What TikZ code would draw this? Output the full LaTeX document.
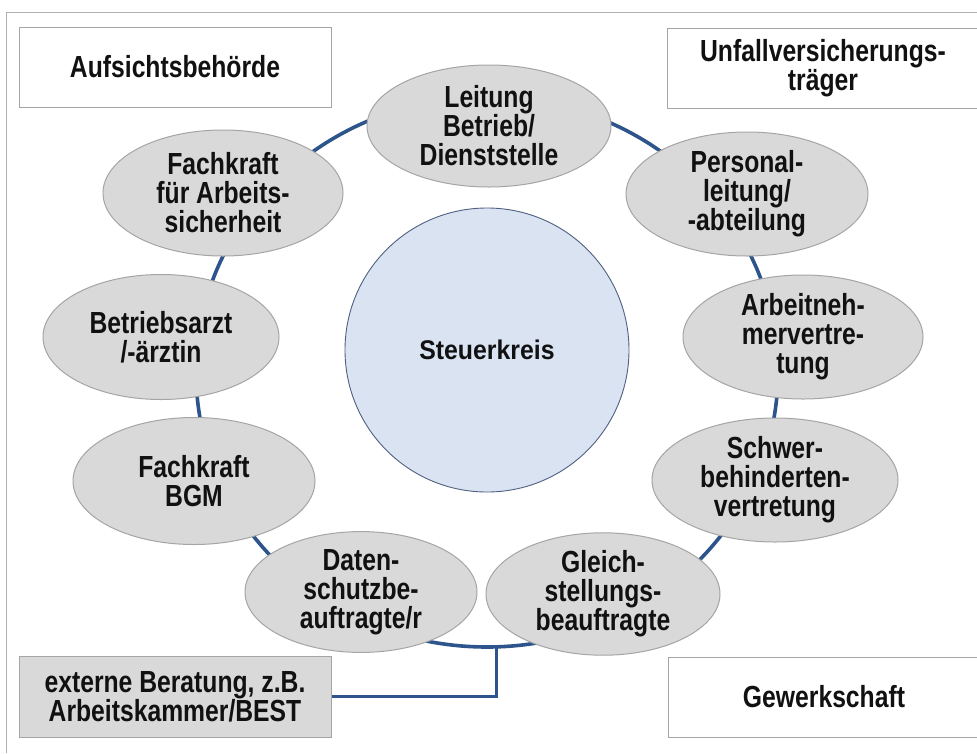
\documentclass[tikz,border=0pt]{standalone}
\usepackage{fontspec}
\setmainfont{Liberation Sans}
\newfontfamily\lblfont{Liberation Sans}[FakeStretch=0.81]
\newfontfamily\midfont{Liberation Sans}[FakeStretch=0.92]
\usetikzlibrary{shapes.geometric}
\definecolor{ringblue}{RGB}{46,84,140}
\definecolor{ellfill}{RGB}{217,217,217}
\definecolor{ellline}{RGB}{165,165,165}
\definecolor{midfill}{RGB}{218,227,242}
\definecolor{midline}{RGB}{80,96,128}
\definecolor{txt}{RGB}{17,17,17}
\definecolor{framegray}{RGB}{175,175,175}
\begin{document}
\begin{tikzpicture}[x=1pt,y=-1pt,
  member/.style={ellipse, draw=ellline, line width=1pt, fill=ellfill, inner sep=0pt,
    minimum width=240pt, minimum height=124pt, align=center, text=txt,
    font=\lblfont\bfseries\fontsize{30.5}{29}\selectfont},
  outerbox/.style={rectangle, draw=ellline, line width=1pt, fill=white, inner sep=0pt,
    minimum width=312pt, minimum height=80pt, align=center, text=txt,
    font=\lblfont\bfseries\fontsize{30.5}{29}\selectfont},
  ringline/.style={draw=ringblue, line width=3.6pt}
]
\useasboundingbox (0,0) rectangle (977,753);
\fill[white] (0,0) rectangle (977,753);
% frame
\draw[framegray, line width=0.9pt] (977,12) -- (6,12) -- (6,753);
% ring
\draw[ringline] (487,372) ellipse [x radius=291pt, y radius=275pt];
% boxes
\node[outerbox] (aufsicht) at (175,67) {Aufsichtsbehörde};
\node[outerbox] (unfall) at (823,68) {Unfallversicherungs-\\träger};
\node[outerbox, fill=ellfill, minimum height=81pt] (extern) at (175,696.5) {externe Beratung, z.B.\\Arbeitskammer/BEST};
\node[outerbox] (gewerk) at (824,697) {Gewerkschaft};
% connector
\coordinate (ringbot) at (496,646);
\draw[draw=ringblue, line width=3pt] (ringbot) |- (extern.east);
% members
\node[member, minimum width=244pt, minimum height=122pt] (leitung) at (489,126) {Leitung\\Betrieb/\\Dienststelle};
\node[member, minimum height=126pt] (fasi) at (223,193) {Fachkraft\\für Arbeits-\\sicherheit};
\node[member, minimum width=242pt] (personal) at (747,194) {Personal-\\leitung/\\-abteilung};
\node[member, minimum width=236pt, minimum height=125pt] (arzt) at (161,337) {Betriebsarzt\\/-ärztin};
\node[member] (anv) at (803,337) {Arbeitneh-\\mervertre-\\tung};
\node[member, minimum width=242pt, minimum height=127pt] (bgm) at (194,481) {Fachkraft\\BGM};
\node[member, minimum width=246pt] (schwer) at (775,480) {Schwer-\\behinderten-\\vertretung};
\node[member, minimum width=232pt, minimum height=116pt] (daten) at (361,592) {Daten-\\schutzbe-\\auftragte/r};
\node[member, minimum width=234pt, minimum height=116pt] (gleich) at (603,594) {Gleich-\\stellungs-\\beauftragte};
% center
\node[circle, draw=midline, line width=0.9pt, fill=midfill, minimum size=284pt, inner sep=0pt,
  text=txt, font=\midfont\bfseries\fontsize{27}{29}\selectfont] (steuer) at (487,350) {Steuerkreis};
\end{tikzpicture}
\end{document}
